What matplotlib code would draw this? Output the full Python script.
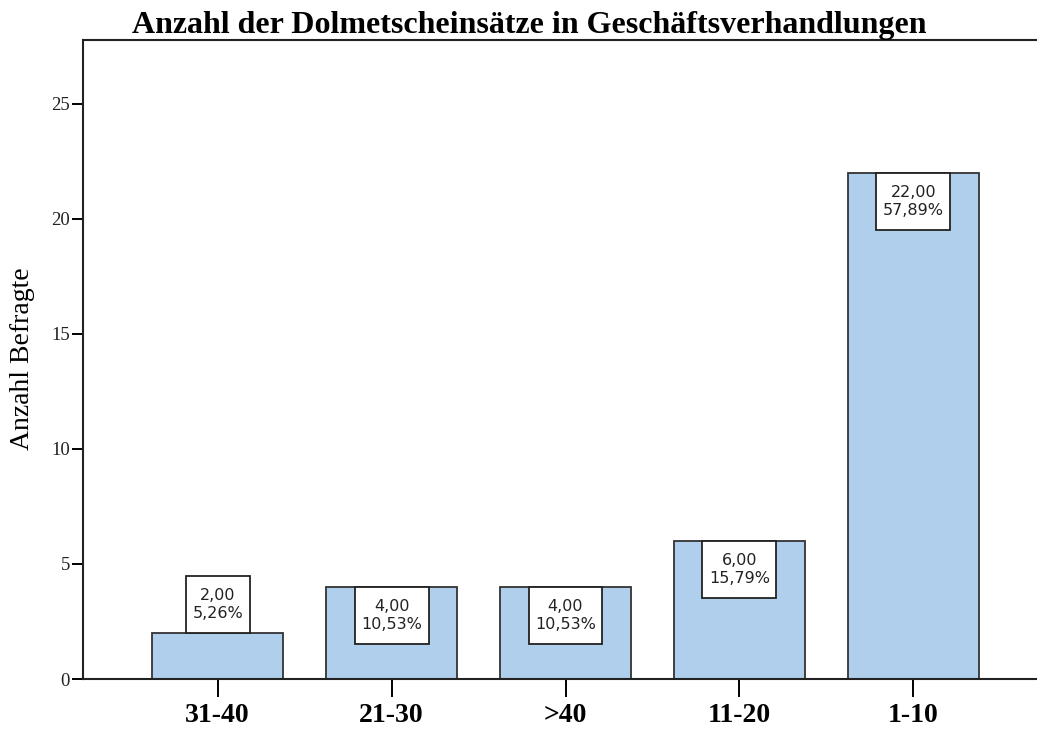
import matplotlib
matplotlib.use("Agg")
import matplotlib.pyplot as plt
from matplotlib.patches import Rectangle
from matplotlib.transforms import IdentityTransform

categories = ["31-40", "21-30", ">40", "11-20", "1-10"]
counts = [2, 4, 4, 6, 22]
title = "Anzahl der Dolmetscheinsätze in Geschäftsverhandlungen"
ylabel = "Anzahl Befragte"
yticks = [0, 5, 10, 15, 20, 25]

total = sum(counts)
W, H = 1037, 729
fig = plt.figure(figsize=(W / 100, H / 100), dpi=100)
ax = fig.add_axes([83 / W, 1 - 679 / H, (1048 - 83) / W, (679 - 40) / H])

bar_color = "#afcfec"
xs = list(range(len(categories)))
ax.bar(xs, counts, width=0.753, color=bar_color, edgecolor="#333333", linewidth=1.3, zorder=2)

ax.set_xlim(-0.774, 4.774)
ax.set_ylim(0, 27.78)
ax.set_yticks(yticks)
ax.set_yticklabels([str(t) for t in yticks], fontfamily="Liberation Serif", fontsize=13.5, color="#222222")
ax.set_xticks(xs)
ax.set_xticklabels(categories, fontfamily="Liberation Serif", fontsize=20, fontweight="bold")

ax.tick_params(axis="y", length=8, width=1.4, pad=1.5, direction="out")
ax.tick_params(axis="x", length=13, width=1.4, pad=4, direction="out")
for s in ["left", "top", "bottom"]:
    ax.spines[s].set_linewidth(1.5)
    ax.spines[s].set_color("#222222")
ax.spines["right"].set_visible(False)

# value labels
px_per_unit = (679 - 40) / 27.78
box_h_px = 57
box_h_units = box_h_px / px_per_unit
texts = []
for x, c in zip(xs, counts):
    pct = c / total * 100
    txt = f"{c:.2f}".replace(".", ",") + "\n" + f"{pct:.2f}".replace(".", ",") + "%"
    off = box_h_px / 2 * 0.72 if c < box_h_units + 0.5 else -box_h_px / 2 * 0.72
    t = ax.annotate(txt, xy=(x, c), xytext=(0, off), textcoords="offset points",
                    ha="center", va="center", multialignment="center",
                    fontsize=11.5, fontfamily="DejaVu Sans", color="#222222", linespacing=1.3,
                    zorder=5)
    texts.append((t, x, c, off))

fig.canvas.draw()
renderer = fig.canvas.get_renderer()
for t, x, c, off in texts:
    bb = t.get_window_extent(renderer)
    wpx = bb.width + 13
    cx = (bb.x0 + bb.x1) / 2
    cy = ax.transData.transform((x, c))[1] + off / 0.72
    rect = Rectangle((cx - wpx / 2, cy - box_h_px / 2), wpx, box_h_px,
                     fc="white", ec="#222222", lw=1.3, zorder=4)
    rect.set_transform(IdentityTransform())
    ax.add_artist(rect)

fig.text(529 / W, 1 - 33 / H, title, ha="center", va="baseline",
         fontfamily="Liberation Serif", fontweight="bold", fontsize=23)
fig.text(23 / W, 1 - 359 / H, ylabel, ha="center", va="center", rotation=90,
         fontfamily="Liberation Serif", fontsize=20)

fig.savefig("out.png", dpi=100)
